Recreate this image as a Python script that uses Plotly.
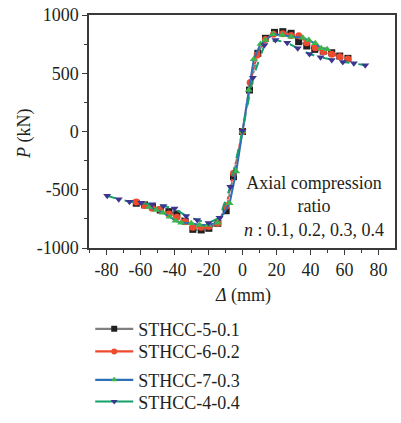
import plotly.graph_objects as go

# ---------------- data ----------------
s1_name = "STHCC-5-0.1"
s1_x = [-62.5, -57.6, -53.0, -48.4, -43.3, -38.6, -33.7, -29.2, -24.3, -19.8, -14.5, -9.6, -5.3,
        0.0, 4.1, 9.0, 13.5, 18.8, 23.7, 28.6, 33.0, 37.8, 42.5, 47.5, 52.5, 57.2, 62.0]
s1_y = [-616, -630, -645, -674, -688, -708, -770, -840, -845, -831, -788, -680, -388,
        0, 356, 671, 800, 851, 857, 843, 771, 734, 705, 690, 676, 648, 628]

s2_name = "STHCC-6-0.2"
s2_x = [-62.5, -57.6, -53.1, -48.4, -43.3, -38.6, -33.7, -29.2, -24.3, -19.8, -14.5, -9.6, -5.3,
        0.0, 4.5, 8.6, 13.5, 18.2, 23.7, 28.6, 33.1, 37.8, 42.8, 47.6, 52.5, 57.2, 62.0]
s2_y = [-606, -636, -659, -668, -708, -736, -773, -821, -821, -815, -788, -640, -358,
        0, 420, 657, 790, 834, 840, 825, 822, 762, 719, 685, 663, 642, 622]

s3_name = "STHCC-7-0.3"
s3_x = [-55.0, -50.8, -46.9, -42.9, -39.4, -36.1, -30.2, -25.3, -20.4, -14.5, -7.6, -3.7,
        0.0, 3.7, 6.6, 10.6, 13.5, 17.8, 23.4, 28.6, 35.5, 39.0, 42.8, 46.3, 49.8]
s3_y = [-648, -674, -697, -731, -766, -783, -788, -802, -802, -783, -616, -344,
        0, 356, 620, 751, 785, 834, 828, 814, 805, 785, 757, 714, 705]

s4_name = "STHCC-4-0.4"
s4_x = [-79.6, -72.8, -66.5, -59.6, -53.1, -46.5, -40.0, -33.1, -26.6, -20.0, -13.5, -7.2,
        0.0, 6.1, 12.9, 19.4, 26.3, 32.5, 39.4, 45.9, 52.5, 59.0, 65.5, 72.2]
s4_y = [-551, -582, -602, -611, -625, -640, -662, -725, -760, -785, -740, -474,
        7, 462, 742, 785, 762, 714, 665, 637, 614, 597, 585, 568]

x_tickvals = [-80, -60, -40, -20, 0, 20, 40, 60, 80]
x_ticktext = ["-80", "-60", "-40", "-20", "0", "20", "40", "60", "80"]
y_tickvals = [-1000, -500, 0, 500, 1000]
y_ticktext = ["-1000", "-500", "0", "500", "1000"]

# ---------------- styles ----------------
FONT = "Liberation Serif"
FS = 18
TXT = "#231f20"
# (name, x, y, line colour, plot dash, marker symbol, marker colour, legend id, legend row y in paper coords)
series = [
    (s1_name, s1_x, s1_y, "#7f7f7f", "dot", "square", "#231f20", "legend", -0.348),
    (s2_name, s2_x, s2_y, "#ee4a2e", "dot", "circle", "#ee4a2e", "legend2", -0.445),
    (s3_name, s3_x, s3_y, "#2c6fb7", "solid", "triangle-up", "#3db54a", "legend3", -0.567),
    (s4_name, s4_x, s4_y, "#14a06c", "dash", "triangle-down", "#3b3590", "legend4", -0.660),
]

fig = go.Figure()
for name, xs, ys, lc, dash, sym, mc, lg, ly in series:
    fig.add_trace(go.Scatter(
        x=xs, y=ys, mode="lines+markers", name=name, showlegend=False,
        line=dict(color=lc, width=2, dash=dash),
        marker=dict(symbol=sym, color=mc, size=7, line=dict(width=0)),
    ))
legend_layouts = {}
for name, xs, ys, lc, dash, sym, mc, lg, ly in series:
    fig.add_trace(go.Scatter(
        x=[None], y=[None], mode="lines+markers", name=name, legend=lg,
        line=dict(color=lc, width=2.2),
        marker=dict(symbol=sym, color=mc, size=6, line=dict(width=0)),
    ))
    legend_layouts[lg] = dict(
        x=0.004, y=ly, xanchor="left", yanchor="middle",
        font=dict(family=FONT, size=FS, color=TXT),
        itemwidth=38, bgcolor="rgba(0,0,0,0)", borderwidth=0,
    )

axis_common = dict(
    showline=True, linecolor="#3a3a3a", linewidth=1.5, mirror=True,
    ticks="outside", ticklen=5, tickwidth=1.2, tickcolor="#3a3a3a",
    showgrid=False, zeroline=False,
    tickfont=dict(family=FONT, size=FS, color=TXT),
)

fig.update_xaxes(
    range=[-90.3, 89.7], tickmode="array", tickvals=x_tickvals, ticktext=x_ticktext,
    minor=dict(dtick=10, ticks="outside", ticklen=3, tickcolor="#3a3a3a", tickwidth=1),
    **axis_common,
)
fig.update_yaxes(
    range=[-1000, 1000], tickmode="array", tickvals=y_tickvals, ticktext=y_ticktext,
    minor=dict(dtick=250, ticks="outside", ticklen=3, tickcolor="#3a3a3a", tickwidth=1),
    **axis_common,
)

fig.add_annotation(
    text="Axial compression<br>ratio<br><i>n</i> : 0.1, 0.2, 0.3, 0.4",
    xref="x", yref="y", x=42, y=-640, xanchor="center", yanchor="middle",
    showarrow=False, font=dict(family=FONT, size=FS, color=TXT), align="center",
)
fig.add_annotation(
    text="<i>P</i> (kN)", xref="paper", yref="paper", x=-0.209, y=0.49,
    xanchor="center", yanchor="middle",
    textangle=-90, showarrow=False, font=dict(family=FONT, size=FS, color=TXT),
)
fig.add_annotation(
    text="<i>Δ</i> (mm)", xref="paper", yref="paper", x=0.502, y=-0.204,
    xanchor="center", yanchor="middle",
    showarrow=False, font=dict(family=FONT, size=FS, color=TXT),
)

fig.update_layout(
    width=401, height=423,
    margin=dict(l=89, r=6, t=15, b=175, autoexpand=False),
    paper_bgcolor="white", plot_bgcolor="white",
    **legend_layouts,
)

fig.write_html("out.html")
